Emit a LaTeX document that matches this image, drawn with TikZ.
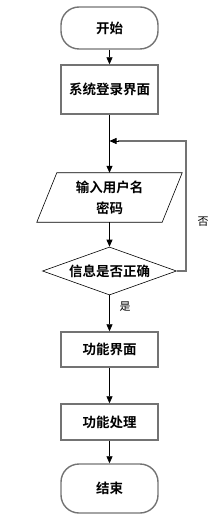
\documentclass[tikz,border=0pt]{standalone}
\usepackage{fontspec}
\newfontfamily\cjk{Noto Sans CJK SC}[BoldFont={Noto Sans CJK SC Bold}]
\usetikzlibrary{shapes.geometric,arrows.meta,calc}
\tikzset{
  boxline/.style={draw=black!55, line width=1.4pt},
  term/.style={boxline, rectangle, rounded corners=18pt, minimum width=97pt, inner sep=0pt, font=\cjk\bfseries\fontsize{13.5}{16}\selectfont},
  proc/.style={boxline, rectangle, minimum width=97pt, inner sep=0pt, font=\cjk\bfseries\fontsize{13.5}{16}\selectfont},
  dec/.style={draw=black, line width=0.6pt, diamond, aspect=2.79, minimum width=134pt, minimum height=48pt, inner sep=0pt, font=\cjk\bfseries\fontsize{13.5}{16}\selectfont},
  arr/.style={draw=black, line width=0.7pt, -{Triangle[length=7pt,width=6pt]}},
  lbl/.style={font=\cjk\fontsize{11}{13}\selectfont, inner sep=0pt},
}
\begin{document}
\begin{tikzpicture}[x=1pt,y=-1pt]
\useasboundingbox (0,0) rectangle (218,521);
\node[term, minimum height=42pt] (start) at (109.5,28) {开始};
\node[proc, minimum height=49pt] (login) at (109.5,89.5) {系统登录界面};
\node[minimum width=145pt, minimum height=49pt, inner sep=0pt, align=center, font=\cjk\bfseries\fontsize{13.5}{21}\selectfont] (inp) at (109.5,197.5) {输入用户名\\密码};
\draw[draw=black, line width=0.6pt] ($(inp.north west)+(20,0)$) -- (inp.north east) -- ($(inp.south east)+(-20,0)$) -- (inp.south west) -- cycle;
\node[dec] (chk) at (109.5,271) {信息是否正确};
\node[proc, minimum height=35pt] (func) at (109.5,349.5) {功能界面};
\node[proc, minimum height=36pt] (proc) at (109.5,422) {功能处理};
\node[term, minimum height=49pt] (end) at (109.5,488.5) {结束};
\coordinate (c1) at (186,271);
\coordinate (c2) at (186,141);
\coordinate (c3) at (109.5,141);
\draw[arr] (start) -- (login);
\draw[arr] (login) -- (inp);
\draw[arr] (inp) -- (chk);
\draw[arr] (chk) -- (func);
\draw[arr] (func) -- (proc);
\draw[arr] (proc) -- (end);
\draw[draw=black!55, line width=1.4pt] (chk.east) -- (c1) -- (c2) -- ($(c3)+(8,0)$);
\draw[arr] ($(c3)+(9,0)$) -- (c3);
\node[lbl] (yes) at (125,307) {是};
\node[lbl] (no) at (203,222) {否};
\end{tikzpicture}
\end{document}
